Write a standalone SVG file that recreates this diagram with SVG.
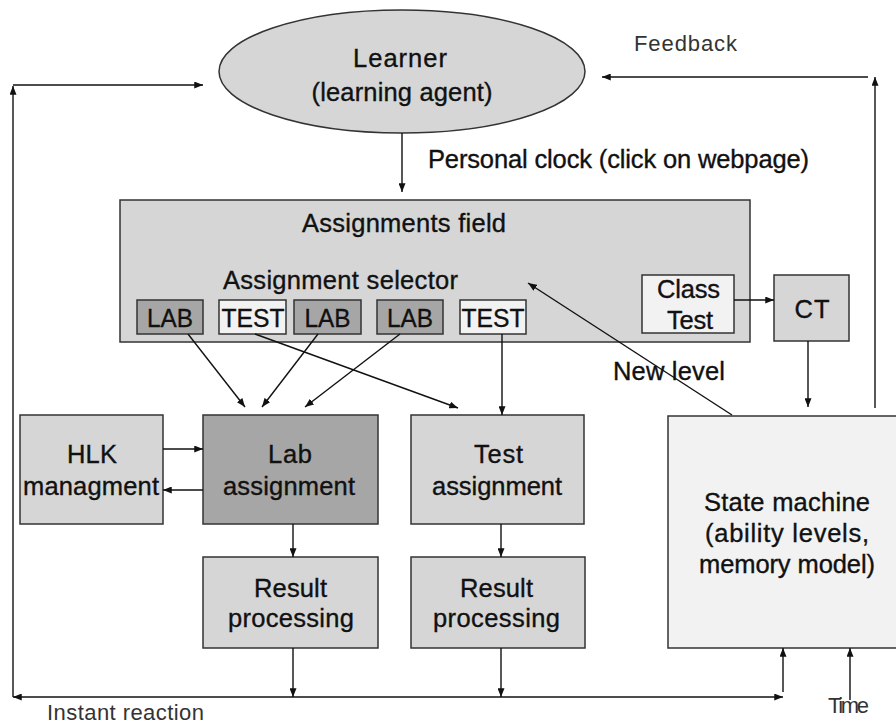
<svg xmlns="http://www.w3.org/2000/svg" width="896" height="725" viewBox="0 0 896 725">
  <style>
    .box { stroke: #333; stroke-width: 1.5; }
    .mid { fill: #d6d6d6; }
    .dark { fill: #a6a6a6; }
    .pale { fill: #f2f2f2; }
    .lbl { font-family: "Liberation Sans", Arial, sans-serif; font-size: 25.5px; fill: #111; stroke: #111; stroke-width: 0.35; text-anchor: middle; }
    .thin { font-family: "Liberation Sans", Arial, sans-serif; font-size: 22px; fill: #333; }
    .con { fill: none; stroke: #111; stroke-width: 1.4; }
  </style>
  <defs>
    <marker id="ah" viewBox="0 0 10 8" refX="10" refY="4" markerWidth="9" markerHeight="7" markerUnits="userSpaceOnUse" orient="auto-start-reverse">
      <path d="M0,0 L10,4 L0,8 Z" fill="#111"/>
    </marker>
  </defs>
  <rect width="896" height="725" fill="#fff"/>

  <!-- learner -->
  <g id="learner">
    <ellipse class="box mid" cx="402" cy="71.5" rx="183" ry="61.5"/>
    <text class="lbl" x="400" y="67" textLength="94" lengthAdjust="spacing">Learner</text>
    <text class="lbl" x="402" y="101" textLength="181" lengthAdjust="spacing">(learning agent)</text>
  </g>

  <!-- assignments field with selector entries -->
  <g id="assignments-field">
    <rect class="box mid" x="120" y="200" width="630" height="142"/>
    <text class="lbl" x="404" y="232" textLength="204" lengthAdjust="spacing">Assignments field</text>
    <text class="lbl" x="340.5" y="289" textLength="235" lengthAdjust="spacing">Assignment selector</text>
  </g>
  <g id="sel-lab1">
    <rect class="box dark" x="137" y="300" width="66" height="34"/>
    <text class="lbl" x="170" y="327" textLength="46" lengthAdjust="spacingAndGlyphs">LAB</text>
  </g>
  <g id="sel-test1">
    <rect class="box pale" x="219" y="300" width="67" height="34"/>
    <text class="lbl" x="253" y="327" textLength="63" lengthAdjust="spacingAndGlyphs">TEST</text>
  </g>
  <g id="sel-lab2">
    <rect class="box dark" x="294" y="300" width="67" height="34"/>
    <text class="lbl" x="327.5" y="327" textLength="46" lengthAdjust="spacingAndGlyphs">LAB</text>
  </g>
  <g id="sel-lab3">
    <rect class="box dark" x="377" y="300" width="66" height="34"/>
    <text class="lbl" x="410" y="327" textLength="46" lengthAdjust="spacingAndGlyphs">LAB</text>
  </g>
  <g id="sel-test2">
    <rect class="box pale" x="460" y="300" width="66" height="34"/>
    <text class="lbl" x="493" y="327" textLength="63" lengthAdjust="spacingAndGlyphs">TEST</text>
  </g>
  <g id="class-test">
    <rect class="box pale" x="642" y="275" width="92" height="58"/>
    <text class="lbl" x="688.5" y="298" textLength="63" lengthAdjust="spacing">Class</text>
    <text class="lbl" x="690" y="329" textLength="46" lengthAdjust="spacing">Test</text>
  </g>

  <g id="ct">
    <rect class="box mid" x="774" y="275" width="75" height="66"/>
    <text class="lbl" x="812" y="318" textLength="35" lengthAdjust="spacing">CT</text>
  </g>

  <g id="hlk">
    <rect class="box mid" x="20" y="415" width="143" height="109"/>
    <text class="lbl" x="92" y="463" textLength="50" lengthAdjust="spacing">HLK</text>
    <text class="lbl" x="91" y="495" textLength="136" lengthAdjust="spacing">managment</text>
  </g>

  <g id="lab-assignment">
    <rect class="box dark" x="203" y="415" width="175" height="109"/>
    <text class="lbl" x="290" y="463" textLength="44" lengthAdjust="spacing">Lab</text>
    <text class="lbl" x="289" y="495" textLength="132" lengthAdjust="spacing">assignment</text>
  </g>

  <g id="test-assignment">
    <rect class="box mid" x="411" y="415" width="173" height="109"/>
    <text class="lbl" x="498.5" y="463" textLength="49" lengthAdjust="spacing">Test</text>
    <text class="lbl" x="497" y="495" textLength="130" lengthAdjust="spacing">assignment</text>
  </g>

  <g id="lab-result">
    <rect class="box mid" x="203" y="557" width="175" height="91"/>
    <text class="lbl" x="290.5" y="597" textLength="73" lengthAdjust="spacing">Result</text>
    <text class="lbl" x="291" y="627" textLength="126" lengthAdjust="spacing">processing</text>
  </g>

  <g id="test-result">
    <rect class="box mid" x="411" y="557" width="174" height="91"/>
    <text class="lbl" x="496.5" y="597" textLength="73" lengthAdjust="spacing">Result</text>
    <text class="lbl" x="496.5" y="627" textLength="127" lengthAdjust="spacing">processing</text>
  </g>

  <g id="state-machine">
    <rect class="box pale" x="668" y="416" width="240" height="232"/>
    <text class="lbl" x="787" y="511" textLength="166" lengthAdjust="spacing">State machine</text>
    <text class="lbl" x="787" y="542" textLength="164" lengthAdjust="spacing">(ability levels,</text>
    <text class="lbl" x="787" y="573" textLength="176" lengthAdjust="spacing">memory model)</text>
  </g>

  <!-- connectors -->
  <g id="connectors">
    <path class="con" marker-end="url(#ah)" d="M402,133 V192"/>
    <path class="con" marker-end="url(#ah)" d="M868,77 H602"/>
    <path class="con" marker-end="url(#ah)" d="M875,408 V77"/>
    <path class="con" marker-end="url(#ah)" d="M13,697 V86"/>
    <path class="con" marker-end="url(#ah)" d="M13,85 H203"/>
    <path class="con" marker-start="url(#ah)" marker-end="url(#ah)" d="M13,697 H783"/>
    <path class="con" marker-end="url(#ah)" d="M783,692 V648"/>
    <path class="con" marker-end="url(#ah)" d="M850,700 V648"/>

    <path class="con" marker-end="url(#ah)" d="M188,334 L245,407"/>
    <path class="con" marker-end="url(#ah)" d="M318,334 L262,407"/>
    <path class="con" marker-end="url(#ah)" d="M400,334 L305,407"/>
    <path class="con" marker-end="url(#ah)" d="M255,334 L458,408"/>
    <path class="con" marker-end="url(#ah)" d="M502,334 V415"/>

    <path class="con" marker-end="url(#ah)" d="M734,300 H774"/>
    <path class="con" marker-end="url(#ah)" d="M808,341 V407"/>
    <path class="con" marker-end="url(#ah)" d="M732,415 L528,283"/>

    <path class="con" marker-end="url(#ah)" d="M163,449 H203"/>
    <path class="con" marker-end="url(#ah)" d="M203,490 H163"/>
    <path class="con" marker-end="url(#ah)" d="M293,524 V557"/>
    <path class="con" marker-end="url(#ah)" d="M501,524 V557"/>
    <path class="con" marker-end="url(#ah)" d="M293,648 V697"/>
    <path class="con" marker-end="url(#ah)" d="M501,648 V697"/>
  </g>

  <!-- connector labels -->
  <text class="lbl" x="618.5" y="168" textLength="381" lengthAdjust="spacing">Personal clock (click on webpage)</text>
  <text class="lbl" x="669" y="380" textLength="112" lengthAdjust="spacing">New level</text>
  <text class="thin" x="634" y="51" textLength="103" lengthAdjust="spacing">Feedback</text>
  <text class="thin" x="47" y="720" textLength="157" lengthAdjust="spacing">Instant reaction</text>
  <text class="thin" x="828" y="713" font-size="18" textLength="41" lengthAdjust="spacing">Time</text>
</svg>
